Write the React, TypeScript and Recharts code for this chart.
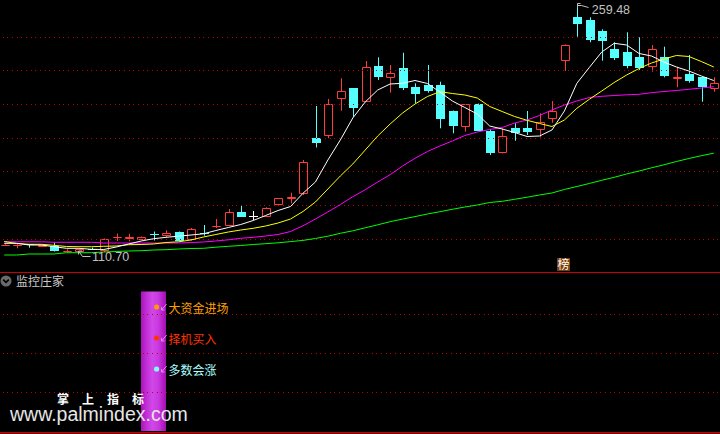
import React from 'react';
import { ComposedChart, Bar, Line, XAxis, YAxis, ReferenceLine, ReferenceDot } from 'recharts';

// ---- price data ----
const opens = [114.94,114.94,115.67,114.21,114.64,111.43,110.82,113.12,111.43,119.90,118.87,118.57,121.60,120.87,123.11,118.27,122.63,126.56,126.92,135.03,132.98,132.37,139.27,142.90,145.93,179.83,181.40,203.80,210.09,201.98,223.59,216.51,222.38,210.70,212.09,212.09,196.35,186.85,200.59,184.25,170.75,185.88,185.88,184.85,191.69,226.80,253.43,251.43,244.78,233.88,232.25,229.22,222.80,228.86,215.54,218.75,216.75,209.49];
const highs = [115.67,115.67,115.85,115.24,116.63,112.64,112.82,113.73,119.18,122.20,122.08,120.39,123.41,124.14,123.41,125.53,127.35,130.98,137.03,138.85,135.82,138.06,143.69,146.90,166.69,199.38,203.62,216.15,210.27,226.62,228.86,224.20,231.64,213.12,224.20,214.09,196.65,200.59,200.89,185.46,185.88,188.91,196.35,194.96,202.40,236.60,259.48,253.07,245.81,237.94,243.99,240.96,236.30,235.27,223.17,230.25,216.93,216.75];
const lows = [114.64,113.24,113.61,114.03,111.31,110.82,110.70,112.21,111.00,117.66,117.48,118.27,117.97,120.08,117.36,117.84,120.87,125.53,126.80,132.19,130.37,132.19,139.15,140.48,145.51,174.26,179.83,196.53,192.90,201.80,215.12,207.43,209.06,201.01,207.43,185.88,182.85,183.82,184.12,169.72,170.63,178.37,181.82,180.43,189.27,220.56,241.33,237.94,226.80,227.22,222.20,221.17,220.14,216.75,210.70,213.48,201.98,208.03];
const closes = [115.36,115.24,115.06,115.06,111.61,111.73,112.64,112.82,118.69,120.27,120.08,119.96,121.29,122.51,117.66,124.74,122.32,126.86,135.03,132.37,132.98,137.46,143.51,144.11,165.30,177.16,200.41,208.46,198.35,222.80,217.11,219.17,210.46,206.64,208.64,191.81,187.45,200.47,184.43,171.11,181.22,182.85,183.82,189.88,196.35,236.30,249.01,239.33,238.90,228.61,223.77,222.56,233.88,217.54,216.75,214.69,210.70,213.12];

const ma5 = [116.27,116.27,115.24,115.24,114.21,113.24,113.24,112.64,112.52,114.03,115.85,117.66,119.05,119.90,120.57,121.29,122.02,124.02,125.83,127.65,130.07,133.10,136.12,138.54,146.54,153.38,166.69,178.80,192.11,201.80,209.06,212.69,213.12,214.81,213.00,207.85,202.40,198.47,194.54,187.27,185.46,183.34,180.92,181.22,184.85,196.35,213.12,222.68,232.06,237.33,236.30,231.16,229.64,226.01,222.98,220.56,217.54,214.81];
const ma10 = [117.36,116.15,115.67,115.67,115.06,114.33,114.21,114.21,114.45,114.64,115.42,115.54,115.85,116.75,117.18,118.27,120.08,121.60,123.11,124.32,125.35,126.74,128.56,130.98,135.52,141.27,149.14,157.01,164.27,172.74,181.22,188.48,195.14,200.59,205.13,208.03,206.94,206.04,204.22,199.08,196.05,193.02,190.72,188.79,186.97,190.90,197.99,203.43,208.46,213.60,218.14,222.08,225.41,227.83,229.95,229.34,226.31,222.98];
const ma20 = [117.18,117.18,117.18,117.18,116.88,116.88,116.88,116.88,116.45,116.45,116.45,116.45,116.45,116.45,116.45,116.75,117.06,117.66,118.39,119.30,119.90,120.69,121.60,123.41,126.86,130.98,135.28,139.70,144.48,148.71,153.38,157.79,163.06,167.72,171.84,175.17,178.19,181.52,183.64,185.15,186.36,189.09,190.90,193.63,196.96,199.98,202.40,204.52,205.25,205.73,206.16,206.46,207.43,208.16,208.76,209.49,210.27,211.06];
const ma60 = [109.19,109.19,109.79,109.79,109.79,110.58,110.58,110.58,111.00,111.31,111.61,111.79,112.21,112.40,112.82,113.12,113.24,113.91,114.45,114.94,115.54,116.03,116.57,117.30,118.03,119.18,120.57,122.32,123.84,125.65,127.47,129.35,130.92,132.43,134.01,135.40,136.85,138.24,139.45,140.97,141.69,142.90,144.17,145.51,146.72,148.84,150.65,152.47,154.40,156.22,158.22,160.03,161.97,163.79,165.78,167.60,169.30,170.81];

const categories = opens.map((_, i) => i);
const gridPrices = [241.0, 220.62, 200.24, 179.86, 159.48, 139.10, 118.72];
const priceDomain: [number, number] = [98.9, 263.54];

// ---- lower indicator panel ----
const panelTitle = '监控庄家';
const stickIndex = 12;
const stickValue = 90;
const signalLabels = ['大资金进场', '择机买入', '多数会涨'];
const signalLevels = [80, 60, 40];
const lowerGrid = [75, 50, 25];
const badgeText = '榜';
const watermarkText = '掌上指标';
const watermarkUrl = 'www.palmindex.com';

const RED = '#ff3c3c';
const CYAN = '#54ffff';
const GRID = '#c00000';
const signalColors = ['#ffa000', '#ff3300', '#a8ffff'];
const signalDots = ['#ff9900', '#ff3300', '#80ffff'];

const data = categories.map((i) => ({
  idx: i,
  open: opens[i],
  high: highs[i],
  low: lows[i],
  close: closes[i],
  hl: [lows[i], highs[i]],
  ma5: ma5[i],
  ma10: ma10[i],
  ma20: ma20[i],
  ma60: ma60[i],
}));

const lowerData = categories.map((i) => ({ idx: i, stick: i === stickIndex ? stickValue : null }));

function Candle(props: any) {
  const { x, y, width, height, payload } = props;
  if (!payload || x == null) return null;
  const { open, close, high, low } = payload;
  const top = Math.min(y, y + height);
  const bot = Math.max(y, y + height);
  const span = high - low;
  const py = (v: number) => (span > 0 ? top + ((high - v) / span) * (bot - top) : top);
  const cx = Math.round(x + width / 2);
  const wx = cx + 0.5;
  const left = cx - 4;
  const yO = Math.round(py(open));
  const yC = Math.round(py(close));
  if (close > open) {
    const h = Math.max(yO - yC - 1, 0);
    return (
      <g>
        <line x1={wx} x2={wx} y1={top} y2={yC + 0.5} stroke={RED} strokeWidth={1} />
        <line x1={wx} x2={wx} y1={yC + 0.5 + h} y2={bot} stroke={RED} strokeWidth={1} />
        <path d={`M${left + 0.5},${yC + 0.5} h8 v${h} h-8 Z`} fill="none" stroke={RED} strokeWidth={1} />
      </g>
    );
  }
  if (close < open) {
    return (
      <g>
        <line x1={wx} x2={wx} y1={top} y2={bot} stroke={CYAN} strokeWidth={1} />
        <rect x={left} y={yO} width={9} height={Math.max(yC - yO, 1)} fill={CYAN} />
      </g>
    );
  }
  return (
    <g>
      <line x1={wx} x2={wx} y1={top} y2={bot} stroke="#ffffff" strokeWidth={1} />
      <line x1={left} x2={left + 9} y1={yO + 0.5} y2={yO + 0.5} stroke="#ffffff" strokeWidth={1} />
    </g>
  );
}

function HighMark(props: any) {
  const { cx, cy, value } = props;
  if (cx == null) return null;
  const x = Math.round(cx) + 0.5;
  const y = Math.round(cy);
  return (
    <g>
      <path d={`M${x},${y + 1} V${y - 3.5} H${x + 3} M${x},${y - 1.5} H${x + 4} L${x + 11},${y + 0.5}`} stroke="#c0c0c0" fill="none" strokeWidth={1} />
      <text x={cx + 15} y={cy + 7.5} fill="#c0c0c0" fontSize={12.5} fontFamily="Liberation Sans, Arial, sans-serif">{value}</text>
    </g>
  );
}

function LowMark(props: any) {
  const { cx, cy, value } = props;
  if (cx == null) return null;
  const x = Math.round(cx) - 0.5;
  const y = Math.round(cy);
  return (
    <g>
      <path d={`M${x},${y - 2} L${x + 4},${y + 3.5} H${x + 12} M${x},${y - 2} h3.5 M${x},${y - 2} v3.5`} stroke="#c0c0c0" fill="none" strokeWidth={1} />
      <text x={cx + 13} y={cy + 8} fill="#c0c0c0" fontSize={12.5} fontFamily="Liberation Sans, Arial, sans-serif">{value.toFixed(2)}</text>
    </g>
  );
}

function Signal(props: any) {
  const { cx, cy, text, color, dot } = props;
  if (cx == null) return null;
  const x = cx + 3;
  return (
    <g>
      <circle cx={x} cy={cy} r={2.6} fill={dot} />
      <path d={`M${x + 10},${cy - 3} L${x + 5},${cy + 3} M${x + 5},${cy + 3} h3 M${x + 5},${cy + 3} v-3`} stroke="#e888f0" strokeWidth={1} fill="none" />
      <text x={x + 12} y={cy} dominantBaseline="central" fill={color} fontSize={12} fontFamily="'Noto Sans CJK SC', sans-serif">{text}</text>
    </g>
  );
}

function StickBar(props: any) {
  const { x, y, width, height } = props;
  if (x == null || !height) return null;
  const cx = x + width / 2;
  return <rect x={Math.round(cx - 12.5)} y={y} width={25} height={height} fill="url(#stickGrad)" />;
}

export default function App() {
  const hiIdx = highs.indexOf(Math.max(...highs));
  const loIdx = lows.indexOf(Math.min(...lows));
  return (
    <div style={{ position: 'absolute', left: 0, top: 0, width: 720, height: 434, background: '#000', overflow: 'hidden' }}>
      <div style={{ position: 'absolute', left: -2, top: 0 }}>
        <ComposedChart width={722} height={272} data={data} margin={{ top: 0, right: 0, bottom: 0, left: 0 }}>
          <XAxis dataKey="idx" hide />
          <YAxis hide type="number" domain={priceDomain} allowDataOverflow />
          {gridPrices.map((p) => (
            <ReferenceLine key={p} y={p} stroke={GRID} strokeWidth={1} strokeDasharray="1 3.67" shapeRendering="crispEdges" />
          ))}
          <Bar dataKey="hl" barSize={9} shape={Candle} isAnimationActive={false} />
          <Line type="linear" dataKey="ma60" stroke="#00ff00" strokeWidth={1} dot={false} activeDot={false} isAnimationActive={false} />
          <Line type="linear" dataKey="ma20" stroke="#ff00ff" strokeWidth={1} dot={false} activeDot={false} isAnimationActive={false} />
          <Line type="linear" dataKey="ma10" stroke="#ffff00" strokeWidth={1} dot={false} activeDot={false} isAnimationActive={false} />
          <Line type="linear" dataKey="ma5" stroke="#ffffff" strokeWidth={1} dot={false} activeDot={false} isAnimationActive={false} />
          <ReferenceDot x={hiIdx} y={highs[hiIdx]} r={0} shape={(p: any) => <HighMark {...p} value={highs[hiIdx]} />} />
          <ReferenceDot x={loIdx} y={lows[loIdx]} r={0} shape={(p: any) => <LowMark {...p} value={lows[loIdx]} />} />
        </ComposedChart>
      </div>
      <div style={{ position: 'absolute', left: -2, top: 272 }}>
        <ComposedChart width={722} height={162} data={lowerData} margin={{ top: 4, right: 0, bottom: 3, left: 0 }}>
          <defs>
            <linearGradient id="stickGrad" x1="0" y1="0" x2="1" y2="0">
              <stop offset="0" stopColor="#a814b8" />
              <stop offset="0.2" stopColor="#c02cd4" />
              <stop offset="0.45" stopColor="#d048e8" />
              <stop offset="0.7" stopColor="#c838e0" />
              <stop offset="0.85" stopColor="#b820c8" />
              <stop offset="1" stopColor="#a010b0" />
            </linearGradient>
          </defs>
          <XAxis dataKey="idx" hide />
          <YAxis hide type="number" domain={[0, 100]} />
          {lowerGrid.map((v) => (
            <ReferenceLine key={v} y={v} stroke={GRID} strokeWidth={1} strokeDasharray="1 3.67" shapeRendering="crispEdges" />
          ))}
          <Bar dataKey="stick" barSize={12} shape={StickBar} isAnimationActive={false} />
          {signalLabels.map((t, k) => (
            <ReferenceDot key={t} x={stickIndex} y={signalLevels[k]} r={0}
              shape={(p: any) => <Signal {...p} text={t} color={signalColors[k]} dot={signalDots[k]} />} />
          ))}
        </ComposedChart>
      </div>
      <svg width={720} height={434} style={{ position: 'absolute', left: 0, top: 0, pointerEvents: 'none' }}>
        <rect x={0} y={272} width={720} height={1} fill="#cc0000" />
        <rect x={0} y={432} width={720} height={1.5} fill="#cc0000" />
        <circle cx={6} cy={281} r={5.5} fill="#6a6a6a" />
        <path d="M3.2,279.6 L6,282.4 L8.8,279.6" stroke="#000" strokeWidth={1.6} fill="none" />
        <text x={16} y={286} fill="#c8c8c8" fontSize={12} fontFamily="'Noto Sans CJK SC', sans-serif">{panelTitle}</text>
        <rect x={557} y={258} width={13} height={13} fill="#7a3e0a" />
        <text x={563.5} y={269} textAnchor="middle" fill="#ffffff" fontSize={12} fontFamily="'Noto Sans CJK SC', sans-serif">{badgeText}</text>
        <text x={57} y={403.5} fill="#ffffff" fontSize={12} fontWeight="bold" letterSpacing={13} fontFamily="'Noto Sans CJK SC', sans-serif">{watermarkText}</text>
        <text x={10} y={421} fill="#e6e6e6" fontSize={19.5} fontFamily="'Liberation Sans', Arial, sans-serif">{watermarkUrl}</text>
      </svg>
    </div>
  );
}
